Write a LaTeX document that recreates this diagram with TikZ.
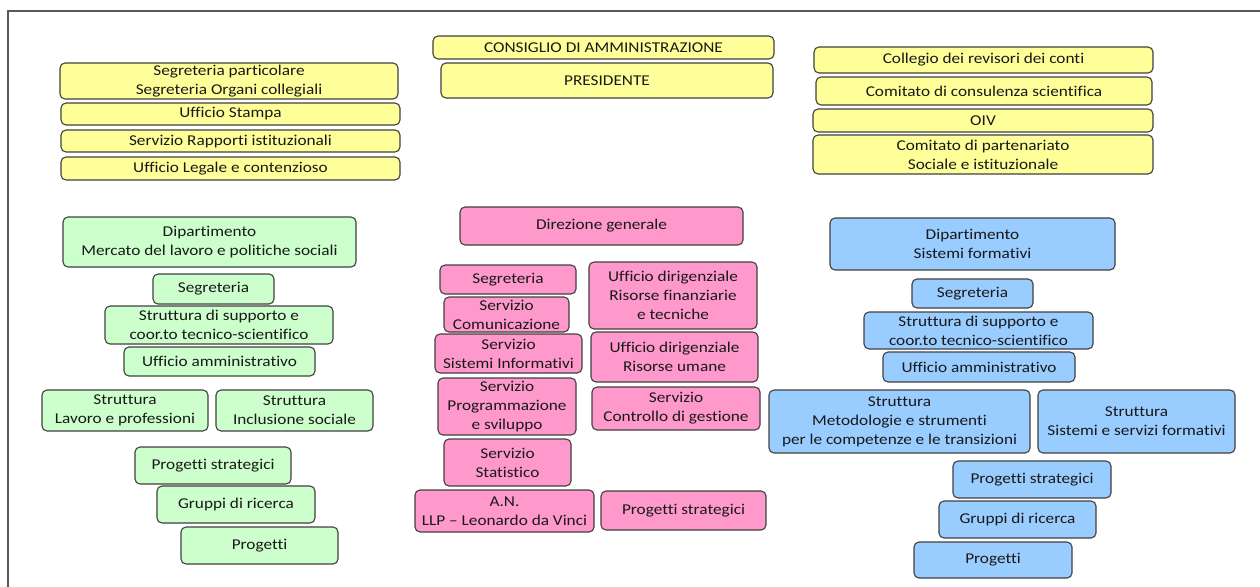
\documentclass[tikz,border=0pt]{standalone}
\usepackage{fontspec}
\setmainfont{Carlito}[FakeStretch=1.15, Ligatures={TeX,NoCommon}]
\definecolor{orgyellow}{HTML}{FFFF99}
\definecolor{orggreen}{HTML}{CCFFCC}
\definecolor{orgpink}{HTML}{FF99CC}
\definecolor{orgblue}{HTML}{99CCFF}
\tikzset{
  unit/.style={draw=black!75, line width=1.1pt, rounded corners=5pt, inner sep=0pt,
               align=center, text=black!90, font=\fontsize{15}{19}\selectfont},
}

\begin{document}
\begin{tikzpicture}[x=1pt,y=-1pt]
\useasboundingbox (0,0) rectangle (1260,586);
\draw[black!65, line width=1.4pt] (8,590) -- (8,11) -- (1262,11);
% organi (giallo)
\foreach \nm/\xa/\ya/\xb/\yb/\txt in {
    segpart/60/63/398/99/{Segreteria particolare\\Segreteria Organi collegiali},
    stampa/61/103/400/125/{Ufficio Stampa},
    rapporti/61/130/400/152/{Servizio Rapporti istituzionali},
    legale/61/157/400/180/{Ufficio Legale e contenzioso},
    cda/433/36/774/59/{CONSIGLIO DI AMMINISTRAZIONE},
    pres/441/63/773/98/{PRESIDENTE},
    revisori/814/47/1153/73/{Collegio dei revisori dei conti},
    consulenza/816/77/1152/105/{Comitato di consulenza scientifica},
    oiv/813/109/1153/132/{OIV},
    partenariato/813/135/1153/174/{Comitato di partenariato\\Sociale e istituzionale}}{
    \node[unit, fill=orgyellow, minimum width={(\xb-\xa)*1pt}, minimum height={(\yb-\ya)*1pt}]
        (\nm) at ({(\xa+\xb)/2},{(\ya+\yb)/2}) {\txt};
}
% dipartimento mercato del lavoro (verde)
\foreach \nm/\xa/\ya/\xb/\yb/\txt in {
    dipml/63/217/356/267/{Dipartimento\\Mercato del lavoro e politiche sociali},
    mlseg/153/274/274/304/{Segreteria},
    mlsupp/105/306/333/344/{Struttura di supporto e\\coor.to tecnico-scientifico},
    mlamm/124/347/315/376/{Ufficio amministrativo},
    mllav/42/390/208/431/{Struttura\\Lavoro e professioni},
    mlincl/216/390/373/431/{Struttura\\Inclusione sociale},
    mlstrat/135/447/291/484/{Progetti strategici},
    mlgrup/157/486/315/523/{Gruppi di ricerca},
    mlprog/181/527/338/564/{Progetti}}{
    \node[unit, fill=orggreen, minimum width={(\xb-\xa)*1pt}, minimum height={(\yb-\ya)*1pt}]
        (\nm) at ({(\xa+\xb)/2},{(\ya+\yb)/2}) {\txt};
}
% direzione generale (rosa)
\foreach \nm/\xa/\ya/\xb/\yb/\txt in {
    dirgen/460/207/743/245/{Direzione generale},
    dgseg/440/265/576/294/{Segreteria},
    dgcom/444/297/569/332/{Servizio\\Comunicazione},
    dginf/435/334/582/373/{Servizio\\Sistemi Informativi},
    dgprog/438/378/576/435/{Servizio\\Programmazione\\e sviluppo},
    dgstat/444/439/571/486/{Servizio\\Statistico},
    dgan/415/490/594/532/{A.N.\\LLP -- Leonardo da Vinci},
    dgfin/589/262/757/329/{Ufficio dirigenziale\\Risorse finanziarie\\e tecniche},
    dgum/591/332/758/382/{Ufficio dirigenziale\\Risorse umane},
    dgcon/592/387/760/430/{Servizio\\Controllo di gestione},
    dgstrat/601/491/766/530/{Progetti strategici}}{
    \node[unit, fill=orgpink, minimum width={(\xb-\xa)*1pt}, minimum height={(\yb-\ya)*1pt}]
        (\nm) at ({(\xa+\xb)/2},{(\ya+\yb)/2}) {\txt};
}
% dipartimento sistemi formativi (azzurro)
\foreach \nm/\xa/\ya/\xb/\yb/\txt in {
    dipsf/830/218/1115/270/{Dipartimento\\Sistemi formativi},
    sfseg/912/279/1033/308/{Segreteria},
    sfsupp/864/312/1093/349/{Struttura di supporto e\\coor.to tecnico-scientifico},
    sfamm/883/352/1075/382/{Ufficio amministrativo},
    sfmet/769/390/1030/453/{Struttura\\Metodologie e strumenti\\per le competenze e le transizioni},
    sfserv/1038/390/1235/453/{Struttura\\Sistemi e servizi formativi},
    sfstrat/953/461/1111/498/{Progetti strategici},
    sfgrup/939/501/1096/538/{Gruppi di ricerca},
    sfprog/914/542/1072/578/{Progetti}}{
    \node[unit, fill=orgblue, minimum width={(\xb-\xa)*1pt}, minimum height={(\yb-\ya)*1pt}]
        (\nm) at ({(\xa+\xb)/2},{(\ya+\yb)/2}) {\txt};
}
\end{tikzpicture}
\end{document}
